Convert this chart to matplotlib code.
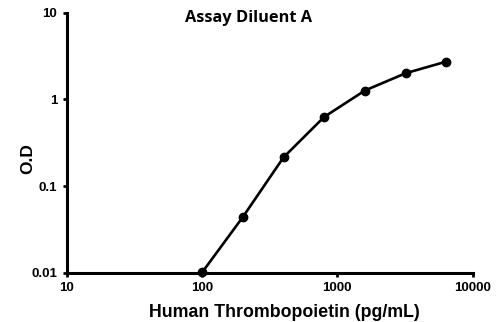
import matplotlib
matplotlib.use("Agg")
import matplotlib.pyplot as plt
from matplotlib.ticker import FixedLocator, NullLocator, FixedFormatter

# standard curve: concentration (pg/mL) vs optical density
conc = [100, 200, 400, 800, 1600, 3200, 6400]
od = [0.0101, 0.044, 0.215, 0.63, 1.27, 2.01, 2.74]

x_ticks = [10, 100, 1000, 10000]
x_labels = ["10", "100", "1000", "10000"]
y_ticks = [0.01, 0.1, 1, 10]
y_labels = ["0.01", "0.1", "1", "10"]

plt.rcParams["font.family"] = ["Liberation Sans", "DejaVu Sans"]

fig = plt.figure(figsize=(5, 3.22), dpi=100)
ax = fig.add_axes([0.134, 0.153, 0.811, 0.807])

ax.plot(conc, od, "k-", lw=1.9, marker="o", ms=6, clip_on=False, zorder=3)

ax.set_xscale("log")
ax.set_yscale("log")
ax.set_xlim(10, 10000)
ax.set_ylim(0.01, 10)

ax.xaxis.set_major_locator(FixedLocator(x_ticks))
ax.xaxis.set_major_formatter(FixedFormatter(x_labels))
ax.yaxis.set_major_locator(FixedLocator(y_ticks))
ax.yaxis.set_major_formatter(FixedFormatter(y_labels))
ax.xaxis.set_minor_locator(NullLocator())
ax.yaxis.set_minor_locator(NullLocator())

for s in ["top", "right"]:
    ax.spines[s].set_visible(False)
for s in ["left", "bottom"]:
    ax.spines[s].set_linewidth(2.2)

ax.tick_params(axis="both", direction="out", length=3, width=2, labelsize=9.5, pad=4)
for lbl in ax.get_xticklabels() + ax.get_yticklabels():
    lbl.set_fontweight("bold")

ax.set_xlabel("Human Thrombopoietin (pg/mL)", fontsize=12.8, fontweight="bold",
              family="Liberation Sans")
ax.xaxis.set_label_coords(0.537, -0.12)
ax.set_ylabel("O.D", fontsize=12.5, fontweight="bold", family="Liberation Sans")
ax.yaxis.set_label_coords(-0.078, 0.44)
fig.text(0.497, 0.945, "Assay Diluent A", ha="center", va="center",
         fontsize=11.8, fontweight="bold", family=["Open Sans", "DejaVu Sans"])

fig.savefig("out.png", dpi=100)
